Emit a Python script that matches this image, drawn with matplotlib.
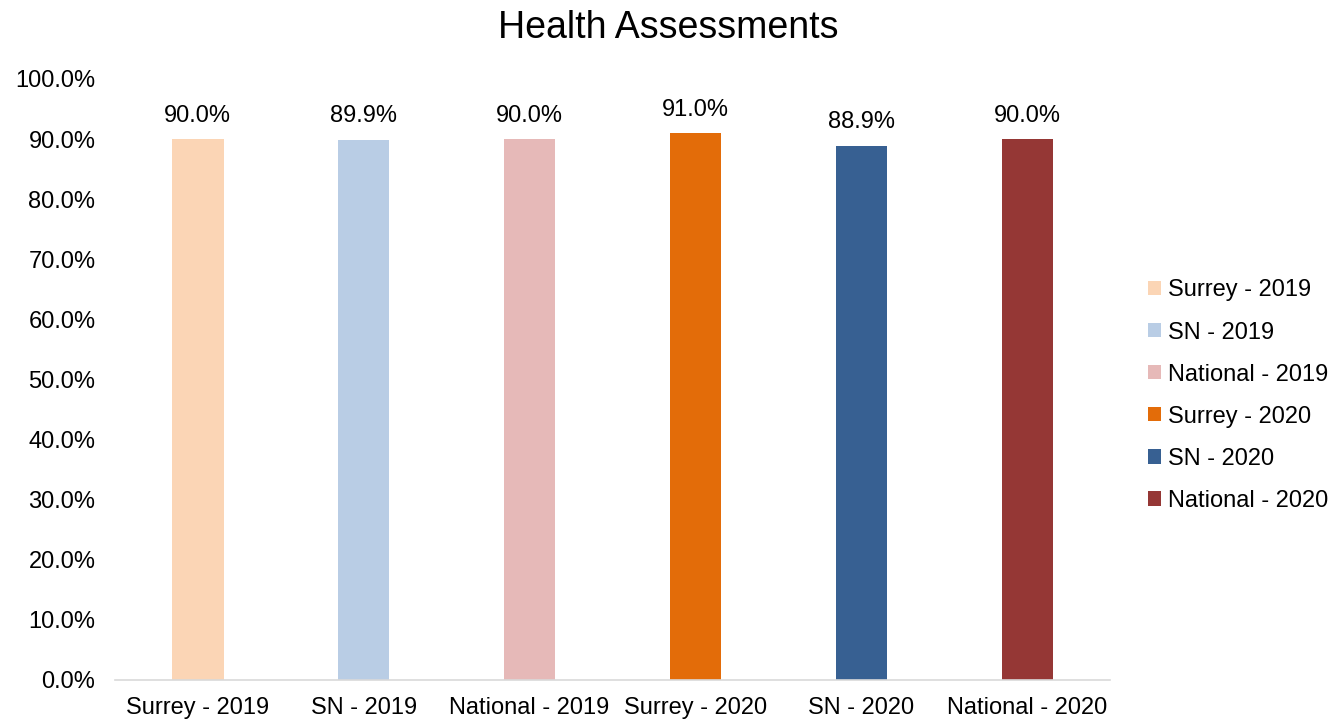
import matplotlib
matplotlib.use("Agg")
import matplotlib.pyplot as plt
from matplotlib.patches import Patch

categories = ["Surrey - 2019", "SN - 2019", "National - 2019", "Surrey - 2020", "SN - 2020", "National - 2020"]
values = [90.0, 89.9, 90.0, 91.0, 88.9, 90.0]
colors = ["#FBD5B5", "#B9CDE5", "#E6B9B8", "#E36C09", "#376092", "#953735"]
yticks = [0, 10, 20, 30, 40, 50, 60, 70, 80, 90, 100]

plt.rcParams['font.family'] = ['Liberation Sans', 'DejaVu Sans']

fig = plt.figure(figsize=(13.36, 7.22), dpi=100)
ax = fig.add_axes([0.086, 0.0582, 0.745, 0.8324])

x = list(range(len(categories)))
ax.bar(x, values, width=0.31, color=colors)
for xi, v in zip(x, values):
    ax.annotate(f"{v:.1f}%", (xi, v), xytext=(0, 9), textcoords="offset points",
                ha="center", va="bottom", fontsize=17, color="#000000")

ax.set_xlim(-0.5, len(categories) - 0.5)
ax.set_ylim(0, 100)
ax.set_yticks(yticks)
ax.set_yticklabels([f"{t:.1f}%" for t in yticks], fontsize=17)
ax.set_xticks(x)
ax.set_xticklabels(categories, fontsize=17)
ax.tick_params(axis='x', length=0, pad=12)
ax.tick_params(axis='y', length=0, pad=14)
for s in ["top", "right", "left"]:
    ax.spines[s].set_visible(False)
ax.spines["bottom"].set_color("#D9D9D9")
ax.spines["bottom"].set_linewidth(1.2)

fig.text(0.5, 0.961, "Health Assessments", ha="center", va="center", fontsize=27)

handles = [Patch(facecolor=c, edgecolor='none') for c in colors]
fig.legend(handles, categories, loc="center left", bbox_to_anchor=(0.859, 0.452),
           frameon=False, fontsize=17, handlelength=0.55, handleheight=0.55,
           handletextpad=0.3, labelspacing=0.85, borderaxespad=0, borderpad=0)

fig.savefig("out.png", dpi=100)
